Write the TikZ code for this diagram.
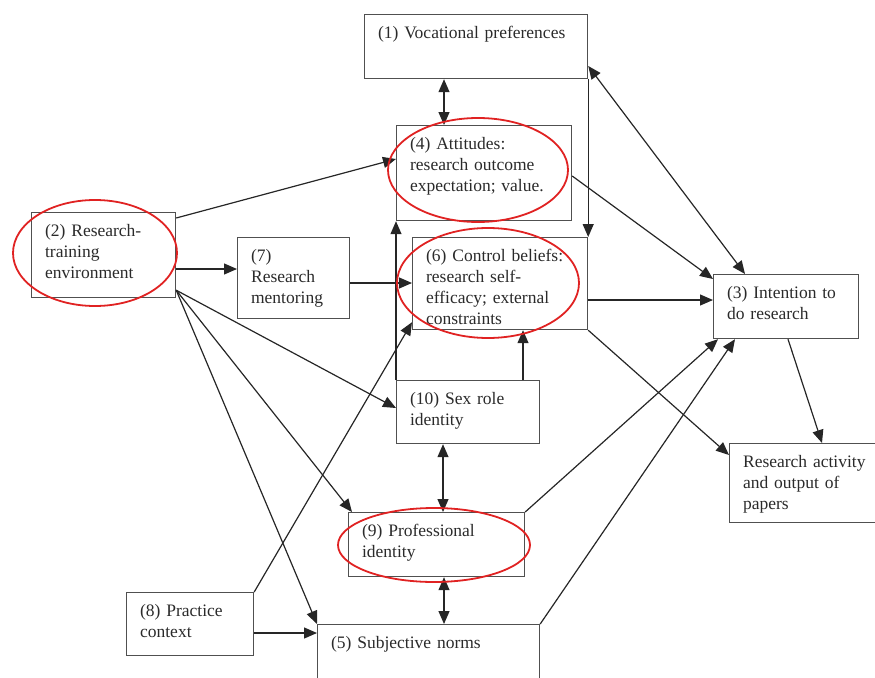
\documentclass[tikz,border=0pt]{standalone}
\usepackage{fontspec}
\setmainfont{Liberation Serif}
\usetikzlibrary{arrows.meta}
\definecolor{boxgray}{HTML}{505050}
\definecolor{txtgray}{HTML}{2A2A2A}
\definecolor{ringred}{HTML}{E02222}
\begin{document}
\begin{tikzpicture}[x=1pt, y=-1pt, line width=1.2pt, color=black!85,
    main/.style = {draw=boxgray, anchor=north west, align=left, text=txtgray, inner xsep=13.5pt, inner ysep=0pt, text height=24pt, font=\fontsize{17.5}{21}\selectfont},
    ring/.style = {draw=ringred, line width=1.8pt},
    >={Triangle[length=13pt, width=11pt]}]
    \clip (0,0) rectangle (875,677);
    % Disegna i riquadri
    \node[main, text width=196pt, text depth=40pt] (1) at (364,14) {(1) Vocational preferences};
    \node[main, text width=148pt, text depth=71pt] (4) at (396,125) {(4) Attitudes:\\research outcome\\expectation; value.};
    \node[main, text width=148pt, text depth=68pt] (6) at (412,237) {(6) Control beliefs:\\research self-\\efficacy; external\\constraints};
    \node[main, text width=116pt, text depth=39pt] (10) at (396,380) {(10) Sex role\\identity};
    \node[main, text width=117pt, text depth=61pt] (2) at (31,212) {(2) Research-\\training\\environment};
    \node[main, text width=85pt, text depth=57pt] (7) at (237,237) {(7)\\Research\\mentoring};
    \node[main, text width=118pt, text depth=40pt] (3) at (713,274) {(3) Intention to\\do research};
    \node[main, text width=128pt, text depth=55pt] (r) at (729,443) {Research activity\\and output of\\papers};
    \node[main, text width=149pt, text depth=40pt] (9) at (348,512) {(9) Professional\\identity};
    \node[main, text width=100pt, text depth=39pt] (8) at (126,592) {(8) Practice\\context};
    \node[main, text width=195pt, text depth=56pt] (5) at (317,624) {(5) Subjective norms};

    \draw[<->] ([xshift=80pt]1.south west) to ([xshift=48pt]4.north west);
    \draw[->] (1.south east) to (6.north east);
    \draw[<->] ([yshift=-52pt]1.north east) to ([xshift=32pt]3.north west);

    \draw[->] ([yshift=-6pt]2.north east) to ([yshift=-34pt]4.north west);
    \draw[->] ([yshift=-57pt]2.north east) to ([yshift=-32pt]7.north west);
    \draw[->] ([yshift=-46pt]7.north east) to ([yshift=-46pt]6.north west);
    \draw[->] ([yshift=8pt]2.south east) to ([yshift=-28pt]10.north west);
    \draw[->] ([yshift=8pt]2.south east) to ([xshift=4pt]9.north west);
    \draw[->] ([yshift=8pt]2.south east) to (5.north west);

    \draw[->] ([yshift=-51pt]4.north east) to ([yshift=-5pt]3.north west);
    \draw[->] ([yshift=-63pt]6.north east) to ([yshift=-26pt]3.north west);
    \draw[->] (6.south east) to ([yshift=-12pt]r.north west);
    \draw[->] ([xshift=75pt]3.south west) to ([xshift=93pt]r.north west);
    \draw[->] (9.north east) to ([xshift=5pt]3.south west);
    \draw[->] (5.north east) to ([xshift=22pt]3.south west);

    \draw[->] (10.north west) to (4.south west);
    \draw[->] ([xshift=127pt]10.north west) to ([xshift=111pt]6.south west);
    \draw[->] (8.north east) to ([yshift=8pt]6.south west);
    \draw[->] ([yshift=-41pt]8.north east) to ([yshift=-9pt]5.north west);
    \draw[<->] ([xshift=47pt]10.south west) to ([xshift=95pt]9.north west);
    \draw[<->] ([xshift=96pt]9.south west) to ([xshift=127pt]5.north west);

    % Cerchi rossi
    \draw[ring] (95,253) ellipse [x radius=82, y radius=53];
    \draw[ring] (478,170) ellipse [x radius=90, y radius=52];
    \draw[ring] (488,283) ellipse [x radius=91, y radius=55];
    \draw[ring] (434,545) ellipse [x radius=96, y radius=37];
\end{tikzpicture}
\end{document}
